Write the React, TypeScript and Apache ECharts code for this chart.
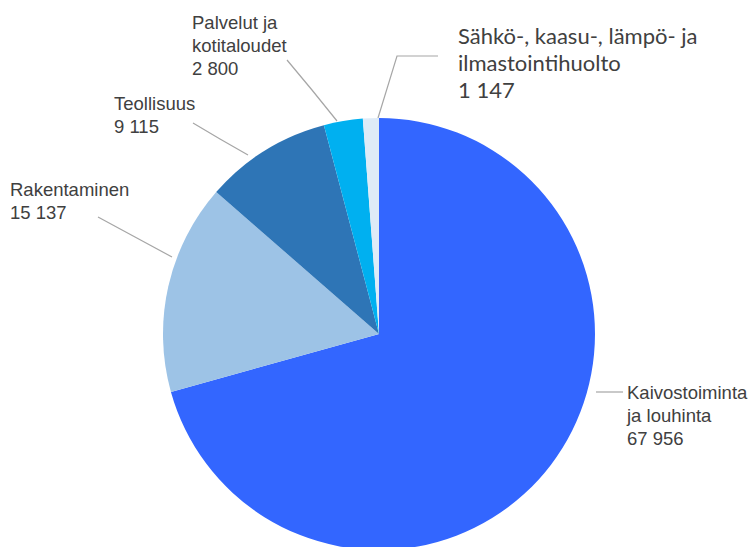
import React, { useEffect, useRef } from "react";
import * as echarts from "echarts";

const categories = [
  "Kaivostoiminta\nja louhinta",
  "Rakentaminen",
  "Teollisuus",
  "Palvelut ja\nkotitaloudet",
  "Sähkö-, kaasu-, lämpö- ja\nilmastointihuolto",
];
const values = [67956, 15137, 9115, 2800, 1147];
const colors = ["#3366FF", "#9DC3E6", "#2E75B6", "#00B0F0", "#DEEBF7"];

// label layout (top-left of text block, and leader line points)
const labelPos: { x: number; y: number; line: number[][] }[] = [
  { x: 627, y: 380.5, line: [[596, 392], [610, 392], [623, 392]] },
  { x: 10, y: 177.5, line: [[172, 257], [135, 237], [98, 217]] },
  { x: 114, y: 91.5, line: [[248, 155], [220, 139], [193, 123]] },
  { x: 192, y: 10.5, line: [[337, 121], [312, 90], [287, 60]] },
  { x: 458, y: 21.5, line: [[378, 118], [397, 56], [438, 56]] },
];

const fmt = (v: number) => String(v).replace(/\B(?=(\d{3})+(?!\d))/g, " ");

export default function App() {
  const ref = useRef<HTMLDivElement>(null);
  useEffect(() => {
    if (!ref.current) return;
    const chart = echarts.init(ref.current, null, { renderer: "svg" });
    chart.setOption({
      animation: false,
      backgroundColor: "#ffffff",
      series: [
        {
          type: "pie",
          center: [379, 334],
          radius: 216,
          startAngle: 90,
          clockwise: true,
          avoidLabelOverlap: false,
          itemStyle: { borderWidth: 0 },
          label: {
            show: true,
            position: "outside",
            color: "#404040",
            fontFamily: "Liberation Sans, Arial, sans-serif",
            fontSize: 18.5,
            lineHeight: 23,
            formatter: (p: any) => `${p.name}\n${fmt(p.value)}`,
          },
          labelLine: {
            show: true,
            lineStyle: { color: "#A6A6A6", width: 1.2 },
          },
          labelLayout: (p: any) => {
            const L = labelPos[p.dataIndex];
            return {
              x: L.x,
              y: L.y,
              align: "left",
              verticalAlign: "top",
              labelLinePoints: L.line,
            };
          },
          data: categories.map((name, i) => ({
            name,
            value: values[i],
            itemStyle: { color: colors[i] },
            ...(i === 4
              ? {
                  label: {
                    fontFamily: "Lato, Open Sans, sans-serif",
                    fontSize: 22,
                    lineHeight: 27,
                  },
                }
              : {}),
          })),
        },
      ],
    });
    return () => chart.dispose();
  }, []);
  return (
    <div
      ref={ref}
      style={{ position: "fixed", left: 0, top: 0, width: 754, height: 547 }}
    />
  );
}
